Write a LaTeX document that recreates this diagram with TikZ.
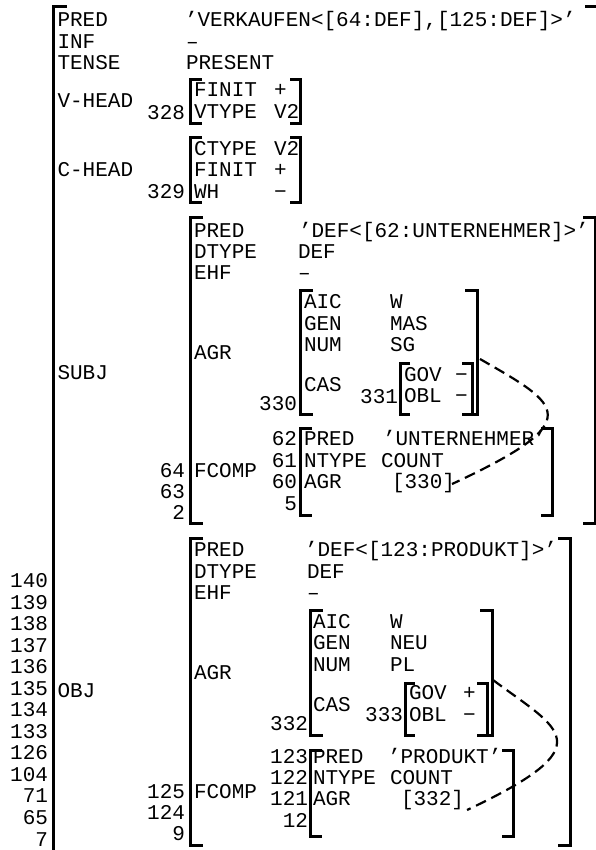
\documentclass[tikz,border=0pt]{standalone}
\usepackage{fontspec}
\newfontfamily\fsmono{Liberation Mono}
\usetikzlibrary{calc}
\begin{document}
\begin{tikzpicture}[x=1pt,y=-1pt,
  txt/.style={anchor=base west,inner sep=0pt,outer sep=0pt,font=\fsmono\fontsize{21}{21.5}\selectfont},
  lbl/.style={txt,anchor=base east},
  brk/.style={line width=3pt},
  lnk/.style={line width=2.2pt,dash pattern=on 11pt off 6pt}]
\useasboundingbox (0,0) rectangle (596,850);
\clip (0,0) rectangle (596,850);
% outer brackets (cut off by the frame)
\draw[brk] (67,7) -| (53.5,880);
\draw[brk] (585,7) -| (599,880);
% top level
\node[txt] (kpred) at (57.5,27) {PRED};
\node[txt] (vpred) at (185,27) {’VERKAUFEN<[64:DEF],[125:DEF]>’};
\node[txt] (kinf) at (57.5,48.5) {INF};
\node[txt] (vinf) at (186,48.5) {–};
\node[txt] (ktense) at (57.5,70) {TENSE};
\node[txt] (vtense) at (186,70) {PRESENT};
% V-HEAD
\node[txt] (kvhead) at (57.5,108) {V-HEAD};
\draw[brk] (202,80) -| (190,124) -- (202,124);
\draw[brk] (290,80) -| (300,124) -- (290,124);
\node[txt] (vhfin) at (194,97) {FINIT};
\node[txt] (vhfinv) at (274,97) {+};
\node[txt] (vhvt) at (194,119) {VTYPE};
\node[txt] (vhvtv) at (274,119) {V2};
\node[lbl] (l328) at (185,120) {328};
% C-HEAD
\node[txt] (kchead) at (57.5,177) {C-HEAD};
\draw[brk] (202,138) -| (190,203) -- (202,203);
\draw[brk] (290,138) -| (300,203) -- (290,203);
\node[txt] (chct) at (194,156) {CTYPE};
\node[txt] (chctv) at (274,156) {V2};
\node[txt] (chfin) at (194,177) {FINIT};
\node[txt] (chfinv) at (274,177) {+};
\node[txt] (chwh) at (194,198.5) {WH};
\node[txt] (chwhv) at (274,198.5) {−};
\node[lbl] (l329) at (185,199) {329};
% SUBJ
\node[txt] (ksubj) at (57.5,379) {SUBJ};
\draw[brk] (203,218) -| (190,523) -- (203,523);
\draw[brk] (583,218) -| (595.5,523) -- (583,523);
\node[txt] (spred) at (194,237) {PRED};
\node[txt] (spredv) at (299,237) {’DEF<[62:UNTERNEHMER]>’};
\node[txt] (sdt) at (194,258) {DTYPE};
\node[txt] (sdtv) at (298,258) {DEF};
\node[txt] (sehf) at (194,279.5) {EHF};
\node[txt] (sehfv) at (298,279.5) {–};
\node[txt] (sagr) at (194,359) {AGR};
\draw[brk] (313,290) -| (300,414) -- (313,414);
\draw[brk] (465,290) -| (477,414) -- (465,414);
\node[txt] (saic) at (304,308) {AIC};
\node[txt] (saicv) at (390,308) {W};
\node[txt] (sgen) at (304,330) {GEN};
\node[txt] (sgenv) at (390,330) {MAS};
\node[txt] (snum) at (304,351) {NUM};
\node[txt] (snumv) at (390,351) {SG};
\node[txt] (scas) at (304,391) {CAS};
\draw[brk] (410,363) -| (400,414) -- (410,414);
\draw[brk] (462,363) -| (472,414) -- (462,414);
\node[txt] (sgov) at (404,381) {GOV};
\node[txt] (sgovv) at (455,381) {−};
\node[txt] (sobl) at (404,402) {OBL};
\node[txt] (soblv) at (455,402) {−};
\node[lbl] (l331) at (398,403) {331};
\node[lbl] (l330) at (297,410) {330};
\node[txt] (sfc) at (194,477) {FCOMP};
\draw[brk] (312,428) -| (300,515) -- (312,515);
\draw[brk] (541,428) -| (552,515) -- (541,515);
\node[lbl] (l62) at (297,445) {62};
\node[txt] (sfpred) at (304,445) {PRED};
\node[txt] (sfpredv) at (383,445) {’UNTERNEHMER’};
\node[lbl] (l61) at (297,467) {61};
\node[txt] (sfnt) at (304,467) {NTYPE};
\node[txt] (sfntv) at (381,467) {COUNT};
\node[lbl] (l60) at (297,488) {60};
\node[txt] (sfagr) at (304,488) {AGR};
\node[txt] (r330) at (392,488) {[330]};
\node[lbl] (l5) at (297,510) {5};
\node[lbl] (l64) at (185,477) {64};
\node[lbl] (l63) at (185,498) {63};
\node[lbl] (l2) at (185,519) {2};
\coordinate (sA) at (480,359);
\draw[lnk] (sA) .. controls (560,405) and (590,420) .. ($(r330.base east)+(-3,-4)$);
% OBJ
\node[txt] (kobj) at (57.5,697) {OBJ};
\node[lbl] (n140) at (48,587.4) {140};
\node[lbl] (n139) at (48,609) {139};
\node[lbl] (n138) at (48,630.5) {138};
\node[lbl] (n137) at (48,652) {137};
\node[lbl] (n136) at (48,673.6) {136};
\node[lbl] (n135) at (48,695.2) {135};
\node[lbl] (n134) at (48,716.7) {134};
\node[lbl] (n133) at (48,738.3) {133};
\node[lbl] (n126) at (48,759.8) {126};
\node[lbl] (n104) at (48,781.4) {104};
\node[lbl] (n71) at (48,802.9) {71};
\node[lbl] (n65) at (48,824.5) {65};
\node[lbl] (n7) at (48,846) {7};
\draw[brk] (203,538) -| (190,845) -- (203,845);
\draw[brk] (558,538) -| (570,845) -- (558,845);
\node[txt] (opred) at (194,556) {PRED};
\node[txt] (opredv) at (305,556) {’DEF<[123:PRODUKT]>’};
\node[txt] (odt) at (194,578) {DTYPE};
\node[txt] (odtv) at (307,578) {DEF};
\node[txt] (oehf) at (194,599.5) {EHF};
\node[txt] (oehfv) at (307,599.5) {–};
\node[txt] (oagr) at (194,679) {AGR};
\draw[brk] (323,610) -| (310,735) -- (323,735);
\draw[brk] (480,610) -| (492,735) -- (480,735);
\node[txt] (oaic) at (313,628) {AIC};
\node[txt] (oaicv) at (390,628) {W};
\node[txt] (ogen) at (313,649) {GEN};
\node[txt] (ogenv) at (390,649) {NEU};
\node[txt] (onum) at (313,671) {NUM};
\node[txt] (onumv) at (390,671) {PL};
\node[txt] (ocas) at (313,711) {CAS};
\draw[brk] (415,683) -| (405,735) -- (415,735);
\draw[brk] (477,683) -| (487,735) -- (477,735);
\node[txt] (ogov) at (409,699) {GOV};
\node[txt] (ogovv) at (463,699) {+};
\node[txt] (oobl) at (409,721) {OBL};
\node[txt] (ooblv) at (463,721) {−};
\node[lbl] (l333) at (403,721) {333};
\node[lbl] (l332) at (308,730) {332};
\node[txt] (ofc) at (194,798) {FCOMP};
\draw[brk] (322,750) -| (310,836) -- (322,836);
\draw[brk] (502,750) -| (513,836) -- (502,836);
\node[lbl] (l123) at (308,763) {123};
\node[txt] (ofpred) at (313,763) {PRED};
\node[txt] (ofpredv) at (388,763) {’PRODUKT’};
\node[lbl] (l122) at (308,784) {122};
\node[txt] (ofnt) at (313,784) {NTYPE};
\node[txt] (ofntv) at (390,784) {COUNT};
\node[lbl] (l121) at (308,805) {121};
\node[txt] (ofagr) at (313,805) {AGR};
\node[txt] (r332) at (401,805) {[332]};
\node[lbl] (l12) at (308,827) {12};
\node[lbl] (l125) at (185,798) {125};
\node[lbl] (l124) at (185,819) {124};
\node[lbl] (l9) at (185,840) {9};
\coordinate (oA) at (493,680);
\draw[lnk] (oA) .. controls (560,730) and (605,745) .. ($(r332.base east)+(3,5)$);
\end{tikzpicture}
\end{document}
